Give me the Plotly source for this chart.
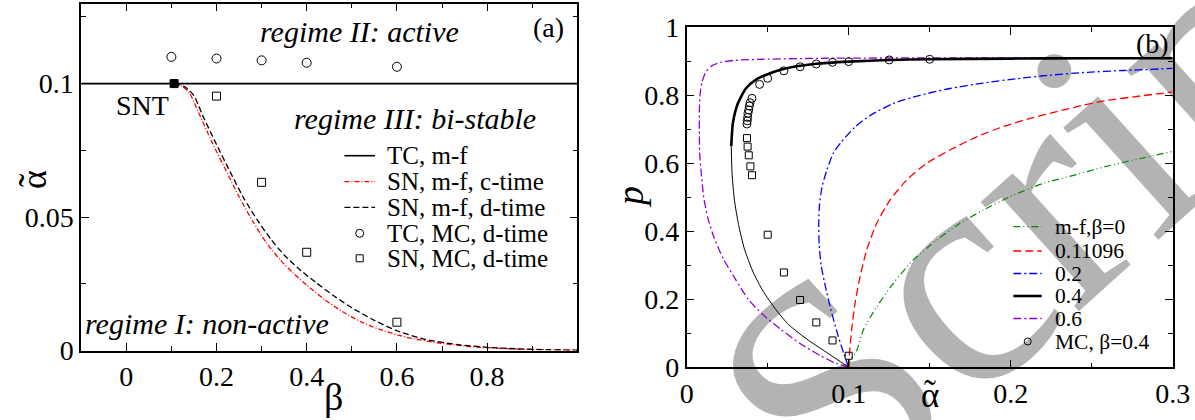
import plotly.graph_objects as go

W, H = 1195, 420

# ---------------- Panel (a) data ----------------
tc_mf_beta = [-0.1, 1.0]
tc_mf_alpha = [0.1, 0.1]
snt_beta = [0.106]
snt_alpha = [0.1]
sn_c_beta = [0.106, 0.125, 0.14, 0.16, 0.19, 0.22, 0.25, 0.28, 0.31, 0.34, 0.37, 0.40,
             0.44, 0.48, 0.52, 0.56, 0.62, 0.69, 0.76, 0.84, 0.92, 1.0]
sn_c_alpha = [0.1, 0.0989, 0.0965, 0.0893, 0.0780, 0.0678, 0.0576, 0.0485, 0.0405, 0.0342, 0.0290, 0.0245,
              0.0190, 0.0145, 0.0108, 0.0080, 0.0050, 0.0029, 0.0015, 0.0007, 0.0003, 0.0001]
sn_d_beta = [0.106, 0.13, 0.15, 0.17, 0.20, 0.23, 0.26, 0.29, 0.32, 0.35, 0.38, 0.42,
             0.46, 0.50, 0.55, 0.60, 0.66, 0.73, 0.80, 0.87, 0.94, 1.0]
sn_d_alpha = [0.1, 0.0988, 0.0955, 0.0878, 0.0772, 0.0670, 0.0572, 0.0490, 0.0418, 0.0358, 0.0310, 0.0255,
              0.0205, 0.0160, 0.0113, 0.0074, 0.0043, 0.0023, 0.0012, 0.0006, 0.0003, 0.0001]
tc_mc_beta = [0.1, 0.2, 0.3, 0.4, 0.6]
tc_mc_alpha = [0.1100, 0.1094, 0.1087, 0.1078, 0.1063]
sn_mc_beta = [0.2, 0.3, 0.4, 0.6]
sn_mc_alpha = [0.0953, 0.0630, 0.0368, 0.0106]

# ---------------- Panel (b) data ----------------
b0_alpha = [0.1, 0.1008, 0.105, 0.109, 0.1173, 0.1275, 0.1399, 0.1543, 0.1687, 0.1831, 0.1996,
            0.2201, 0.2407, 0.2582, 0.28, 0.3]
b0_p = [0.0, 0.02, 0.05, 0.11, 0.178, 0.247, 0.316, 0.374, 0.4235, 0.4625, 0.502,
        0.541, 0.567, 0.590, 0.614, 0.635]
b011_alpha = [0.1, 0.1003, 0.1018, 0.1039, 0.107, 0.1111, 0.1173, 0.1255, 0.1358, 0.1481, 0.1625,
              0.179, 0.1954, 0.2119, 0.2284, 0.2448, 0.2582, 0.28, 0.3]
b011_p = [0.0, 0.03, 0.11, 0.188, 0.266, 0.345, 0.4235, 0.492, 0.551, 0.6, 0.639,
          0.678, 0.708, 0.732, 0.752, 0.771, 0.784, 0.798, 0.81]
b02_alpha = [0.1, 0.097, 0.093, 0.089, 0.0855, 0.083, 0.0818, 0.0815, 0.082, 0.0835, 0.0865, 0.0905,
             0.095, 0.1035, 0.113, 0.1275, 0.144, 0.1625, 0.183, 0.204, 0.224, 0.245, 0.27, 0.3]
b02_p = [0.0, 0.04, 0.1, 0.17, 0.24, 0.3, 0.36, 0.42, 0.48, 0.53, 0.58, 0.63,
         0.66, 0.705, 0.74, 0.776, 0.8, 0.82, 0.836, 0.849, 0.859, 0.867, 0.873, 0.879]
b04_low_alpha = [0.1, 0.086, 0.075, 0.063, 0.055, 0.047, 0.041, 0.0355, 0.032, 0.0295, 0.028, 0.0275]
b04_low_p = [0.0, 0.045, 0.08, 0.125, 0.17, 0.225, 0.28, 0.35, 0.42, 0.49, 0.57, 0.65]
b04_up_alpha = [0.0275, 0.0285, 0.0315, 0.0365, 0.043, 0.05, 0.058, 0.066, 0.08, 0.1,
                0.125, 0.15, 0.2, 0.25, 0.3]
b04_up_p = [0.65, 0.718, 0.775, 0.82, 0.847, 0.862, 0.875, 0.884, 0.893, 0.899,
            0.904, 0.906, 0.908, 0.909, 0.909]
b06_alpha = [0.1, 0.092, 0.083, 0.07, 0.058, 0.047, 0.038, 0.03, 0.0225, 0.017, 0.013, 0.0105,
             0.009, 0.008, 0.0078, 0.0078, 0.0082, 0.0095, 0.012, 0.016, 0.021, 0.03, 0.047, 0.086, 0.15, 0.3]
b06_p = [0.0, 0.012, 0.033, 0.07, 0.112, 0.155, 0.2, 0.26, 0.32, 0.38, 0.44, 0.5,
         0.57, 0.63, 0.7, 0.75, 0.8, 0.84, 0.87, 0.888, 0.897, 0.903, 0.906, 0.909, 0.91, 0.91]
mc_circ_alpha = [0.0372, 0.0374, 0.0376, 0.0378, 0.0383, 0.0387, 0.0391, 0.0403, 0.045, 0.05,
                 0.06, 0.07, 0.08, 0.09, 0.1, 0.125, 0.15]
mc_circ_p = [0.7155, 0.725, 0.735, 0.747, 0.757, 0.7685, 0.778, 0.791, 0.832, 0.850,
             0.872, 0.884, 0.892, 0.897, 0.899, 0.904, 0.906]
mc_sq_alpha = [0.0372, 0.0376, 0.0383, 0.0393, 0.0403, 0.05, 0.06, 0.07, 0.08, 0.09, 0.1]
mc_sq_p = [0.674, 0.649, 0.6235, 0.591, 0.565, 0.39, 0.279, 0.198, 0.132, 0.079, 0.034]

legend_a = ["TC, m-f", "SN, m-f, c-time", "SN, m-f, d-time", "TC, MC, d-time", "SN, MC, d-time"]
legend_b = ["m-f,β=0", "0.11096", "0.2", "0.4", "0.6", "MC, β=0.4"]

SERIF = "Liberation Serif, Times New Roman, Tinos, serif"
RED, BLUE, GREEN, PURPLE = "#ff0000", "#0000ff", "#008b00", "#9400d3"
DASH_A_RED = "5px,2px,1px,2px"
DASH_A_BLK = "6px,3px"
DASH_RED = "8px,4px"
DASH_DOT = "8px,3px,2px,3px"
DASH_DDOT = "7px,3px,1px,3px,1px,3px"

fig = go.Figure()

def line(x, y, color, width, dash, xa, ya, shape="spline"):
    fig.add_trace(go.Scatter(x=x, y=y, mode="lines", xaxis=xa, yaxis=ya, showlegend=False,
                             line=dict(color=color, width=width, dash=dash, shape=shape, smoothing=0.6)))

def marks(x, y, symbol, size, xa, ya):
    fig.add_trace(go.Scatter(x=x, y=y, mode="markers", xaxis=xa, yaxis=ya, showlegend=False,
                             marker=dict(symbol=symbol, size=size, color="black",
                                         line=dict(color="black", width=1))))

# panel (a)
line(tc_mf_beta, tc_mf_alpha, "black", 1.6, "solid", "x", "y", "linear")
line(sn_c_beta, sn_c_alpha, RED, 1.3, DASH_A_RED, "x", "y")
line(sn_d_beta, sn_d_alpha, "black", 1.3, DASH_A_BLK, "x", "y")
marks(tc_mc_beta, tc_mc_alpha, "circle-open", 9, "x", "y")
marks(sn_mc_beta, sn_mc_alpha, "square-open", 8, "x", "y")
marks(snt_beta, snt_alpha, "square", 8, "x", "y")

# panel (b)
line(b0_alpha, b0_p, GREEN, 1.2, DASH_DDOT, "x2", "y2")
line(b011_alpha, b011_p, RED, 1.3, DASH_RED, "x2", "y2")
line(b02_alpha, b02_p, BLUE, 1.3, DASH_DOT, "x2", "y2")
line(b06_alpha, b06_p, PURPLE, 1.3, DASH_DOT, "x2", "y2")
line(b04_low_alpha, b04_low_p, "black", 1.0, "solid", "x2", "y2")
line(b04_up_alpha, b04_up_p, "black", 2.6, "solid", "x2", "y2")
marks(mc_circ_alpha, mc_circ_p, "circle-open", 8, "x2", "y2")
marks(mc_sq_alpha, mc_sq_p, "square-open", 7, "x2", "y2")

def px(x):
    return x / W

def py(y):
    return 1 - y / H

axis_common = dict(showline=True, linecolor="black", linewidth=1.5, mirror="allticks",
                   ticks="inside", ticklen=8, tickwidth=1.2, tickcolor="black",
                   showgrid=False, zeroline=False, automargin=False,
                   tickfont=dict(family=SERIF, size=28, color="black"))

def minor(vals):
    return dict(tickvals=vals, ticks="inside", ticklen=5, tickwidth=1.2,
                tickcolor="black", showgrid=False)

fig.update_layout(
    width=W, height=H, margin=dict(l=0, r=0, t=0, b=0, pad=0, autoexpand=False),
    font=dict(family=SERIF, color="black"),
    paper_bgcolor="white", plot_bgcolor="white", showlegend=False,
    xaxis=dict(domain=[px(81.2), px(577.3)], range=[-0.1, 1.0], anchor="y",
               tickvals=[0, 0.2, 0.4, 0.6, 0.8], ticktext=["0", "0.2", "0.4", "0.6", "0.8"],
               minor=minor([0.1, 0.3, 0.5, 0.7, 0.9]), **axis_common),
    yaxis=dict(domain=[py(350.5), py(3.5)], range=[0, 0.13], anchor="x",
               tickvals=[0, 0.05, 0.1], ticktext=["0", "0.05", "0.1"],
               minor=minor([0.025, 0.075, 0.125]), **axis_common),
    xaxis2=dict(domain=[px(686.7), px(1172.7)], range=[0, 0.3], anchor="y2",
                tickvals=[0, 0.1, 0.2, 0.3], ticktext=["0", "0.1", "0.2", "0.3"],
                minor=minor([0.05, 0.15, 0.25]), **axis_common),
    yaxis2=dict(domain=[py(367.3), py(27.3)], range=[0, 1], anchor="x2",
                tickvals=[0, 0.2, 0.4, 0.6, 0.8, 1.0], ticktext=["0", "0.2", "0.4", "0.6", "0.8", "1"],
                minor=minor([0.1, 0.3, 0.5, 0.7, 0.9]), **axis_common),
)

ann = []
def text(x, y, s, size, italic=False, xanchor="center", angle=0):
    f = dict(family=SERIF, size=size, color="black")
    if italic:
        f["style"] = "italic"
    ann.append(dict(x=px(x), y=py(y), xref="paper", yref="paper", text=s, showarrow=False,
                    xanchor=xanchor, yanchor="middle", textangle=angle, font=f))

# axis titles (alpha with a tilde above it)
text(34, 180, "α", 36, angle=-90)
text(32, 180, "˜", 40, angle=-90)
text(333, 397, "β", 38)
text(630, 197, "p", 38, italic=True, angle=-90)
text(930, 395, "α", 35)
text(930, 393, "˜", 36)

# panel labels
text(359.7, 32, "regime II: active", 30, italic=True)
text(548, 28, "(a)", 28)
text(142, 105, "SNT", 28)
text(415.3, 118, "regime III: bi-stable", 30, italic=True)
text(206.6, 323, "regime I: non-active", 30, italic=True)
text(1152.4, 43.3, "(b)", 28)

shapes = []
# watermark (drawn below the data)
shapes.append(dict(type="rect", xref="paper", yref="paper", x0=px(1015), x1=px(1035),
                   y0=py(178), y1=py(158), layer="below", line=dict(width=0),
                   fillcolor="rgba(0,0,0,0)",
                   label=dict(text="Script", textangle=-42, textposition="middle center",
                              font=dict(family=SERIF, size=320, color="#b3b3b3"))))

def leg_line(x0, x1, y, color, width, dash):
    shapes.append(dict(type="line", xref="paper", yref="paper", x0=px(x0), x1=px(x1),
                       y0=py(y), y1=py(y), line=dict(color=color, width=width, dash=dash)))

def leg_mark(x, y, r, kind):
    shapes.append(dict(type=kind, xref="paper", yref="paper", x0=px(x - r), x1=px(x + r),
                       y0=py(y + r), y1=py(y - r), line=dict(color="black", width=1)))

# legend (a)
ya = [155.7, 181.7, 207.3, 233.3, 258.3]
leg_line(344.4, 375, ya[0], "black", 1.6, "solid")
leg_line(344.4, 375, ya[1], RED, 1.3, DASH_A_RED)
leg_line(344.4, 375, ya[2], "black", 1.3, DASH_A_BLK)
leg_mark(359.7, ya[3], 4, "circle")
leg_mark(359.7, ya[4], 3.5, "rect")
for yy, s in zip(ya, legend_a):
    text(384.6, yy, s, 25, xanchor="left")

# legend (b)
yb = [226.7, 251.0, 273.5, 296.0, 318.5, 341.5]
leg_line(1013.3, 1041.7, yb[0], GREEN, 1.2, DASH_DDOT)
leg_line(1013.3, 1041.7, yb[1], RED, 1.3, DASH_RED)
leg_line(1013.3, 1041.7, yb[2], BLUE, 1.3, DASH_DOT)
leg_line(1013.3, 1041.7, yb[3], "black", 2.6, "solid")
leg_line(1013.3, 1041.7, yb[4], PURPLE, 1.3, DASH_DOT)
leg_mark(1027.7, yb[5], 3.5, "circle")
for yy, s in zip(yb, legend_b):
    text(1052.7, yy, s, 21.5, xanchor="left")

fig.update_layout(annotations=ann, shapes=shapes)
fig.write_html("out.html")
